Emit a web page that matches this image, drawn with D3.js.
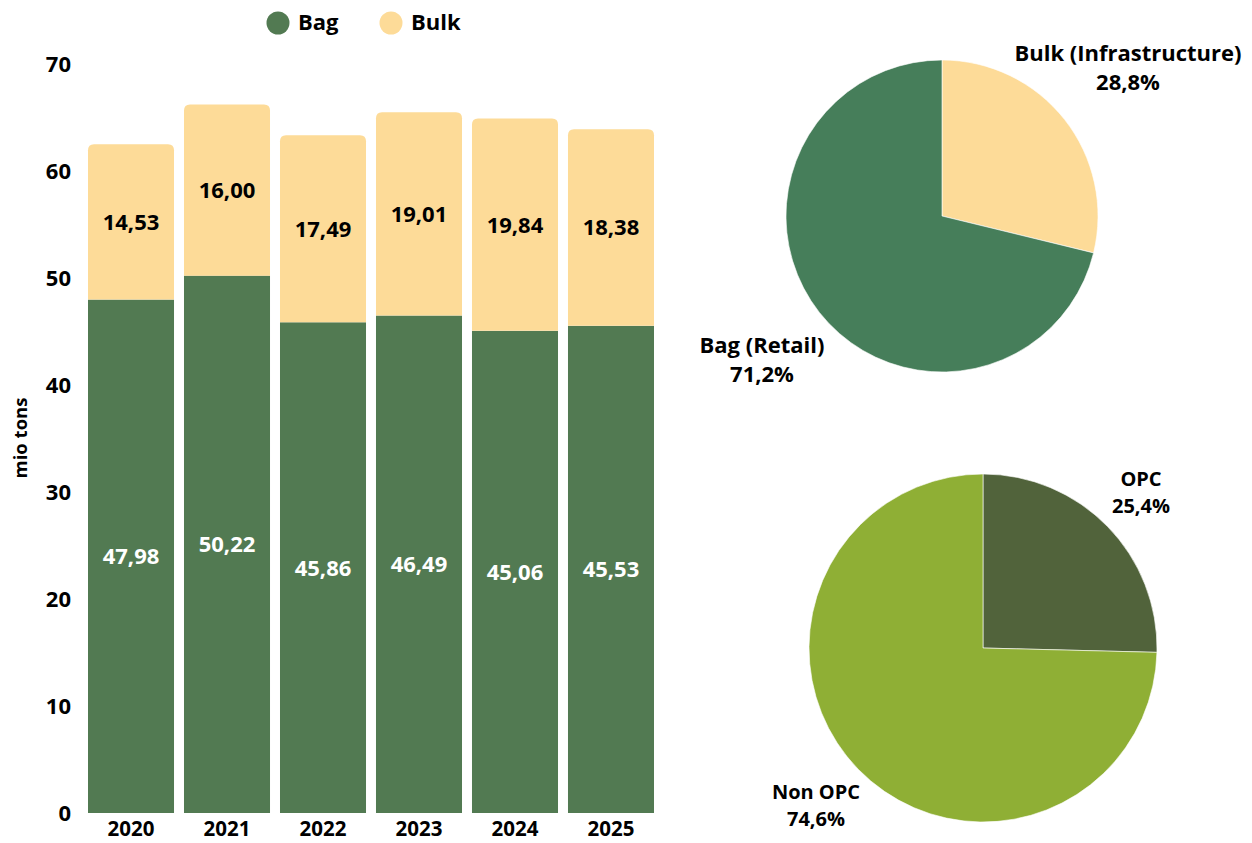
<!DOCTYPE html>
<html><head><meta charset="utf-8">
<script src="https://cdn.jsdelivr.net/npm/d3@7"></script>
<style>body{margin:0;background:#fff;}svg{display:block;font-family:"Open Sans",sans-serif;font-weight:700;}</style>
</head><body>
<svg id="c" width="1252" height="843"></svg>
<script>
const years = ["2020","2021","2022","2023","2024","2025"];
const bagValues = [47.98, 50.22, 45.86, 46.49, 45.06, 45.53];
const bulkValues = [14.53, 16.00, 17.49, 19.01, 19.84, 18.38];
const yTicks = [0,10,20,30,40,50,60,70];
const seriesNames = ["Bag","Bulk"];
const pie1Labels = ["Bulk (Infrastructure)","Bag (Retail)"];
const pie1Values = [28.8, 71.2];
const pie2Labels = ["OPC","Non OPC"];
const pie2Values = [25.4, 74.6];

const colBag = "#527a52", colBulk = "#fddb98";
const pie1Colors = ["#fddb98","#467e5a"];
const pie2Colors = ["#51633b","#8faf35"];
const fmt = v => v.toFixed(2).replace(".", ",");
const fmtP = v => v.toFixed(1).replace(".", ",") + "%";

const svg = d3.select("#c");
const x = d3.scaleBand().domain(years).range([83.2, 658.8]).paddingInner(0.104).paddingOuter(0.05);
const y = d3.scaleLinear().domain([0,70]).range([813,64]);

// y axis
const yAxis = svg.append("g").attr("transform","translate(71,0)")
  .call(d3.axisLeft(y).tickValues(yTicks).tickSize(0).tickPadding(0));
yAxis.select(".domain").remove();
yAxis.selectAll("text").attr("font-size",22).attr("font-weight",700).attr("fill","#000")
  .attr("font-family","Open Sans").attr("dy","0.36em");

const xAxis = svg.append("g")
  .call(d3.axisBottom(x).tickSize(0).tickPadding(0));
xAxis.select(".domain").remove();
xAxis.selectAll("text").attr("font-size",20.5).attr("font-weight",700).attr("fill","#000")
  .attr("font-family","Open Sans").attr("y",828.5).attr("dy","0.36em");

svg.append("text").attr("transform","translate(27,438) rotate(-90)")
  .attr("text-anchor","middle").attr("font-size",18.5).text("mio tons");

// bars
const r = 6;
years.forEach((yr,i) => {
  const x0 = x(yr), w = x.bandwidth();
  const yb = y(bagValues[i]), y0 = y(0);
  svg.append("rect").attr("x",x0).attr("y",yb).attr("width",w).attr("height",y0-yb).attr("fill",colBag);
  const yt = y(bagValues[i]+bulkValues[i]);
  const p = `M${x0},${yb} L${x0},${yt+r} Q${x0},${yt} ${x0+r},${yt} L${x0+w-r},${yt} Q${x0+w},${yt} ${x0+w},${yt+r} L${x0+w},${yb} Z`;
  svg.append("path").attr("d",p).attr("fill",colBulk);
  svg.append("text").attr("x",x0+w/2).attr("y",(yb+y0)/2).attr("dy","0.36em")
    .attr("text-anchor","middle").attr("font-size",22).attr("fill","#fff").text(fmt(bagValues[i]));
  svg.append("text").attr("x",x0+w/2).attr("y",(yt+yb)/2).attr("dy","0.36em")
    .attr("text-anchor","middle").attr("font-size",22).attr("fill","#000").text(fmt(bulkValues[i]));
});

// legend
const leg = [{n:seriesNames[0],c:colBag,x:278},{n:seriesNames[1],c:colBulk,x:391}];
leg.forEach(l => {
  svg.append("circle").attr("cx",l.x).attr("cy",23).attr("r",11.5).attr("fill",l.c);
  svg.append("text").attr("x",l.x+20).attr("y",22).attr("dy","0.36em").attr("font-size",22).text(l.n);
});

// pies
function drawPie(cx, cy, rad, vals, cols, labels, labelPos, fs, lh){
  const arcs = d3.pie().sort(null)(vals);
  const arc = d3.arc().innerRadius(0).outerRadius(rad);
  const g = svg.append("g").attr("transform",`translate(${cx},${cy})`);
  g.selectAll("path").data(arcs).join("path").attr("d",arc).attr("fill",(d,i)=>cols[i])
    .attr("stroke","#ffffff").attr("stroke-width",0.6);
  labels.forEach((lab,i) => {
    const t = svg.append("text").attr("text-anchor","middle").attr("font-size",fs);
    t.append("tspan").attr("x",labelPos[i][0]).attr("y",labelPos[i][1]).text(lab);
    t.append("tspan").attr("x",labelPos[i][0]).attr("y",labelPos[i][1]+lh).text(fmtP(vals[i]));
  });
}
drawPie(942, 216, 156, pie1Values, pie1Colors, pie1Labels, [[1128,61],[762,353]], 22, 29);
drawPie(983, 648, 174, pie2Values, pie2Colors, pie2Labels, [[1141,486],[816,799]], 20, 26.5);
</script>
</body></html>
